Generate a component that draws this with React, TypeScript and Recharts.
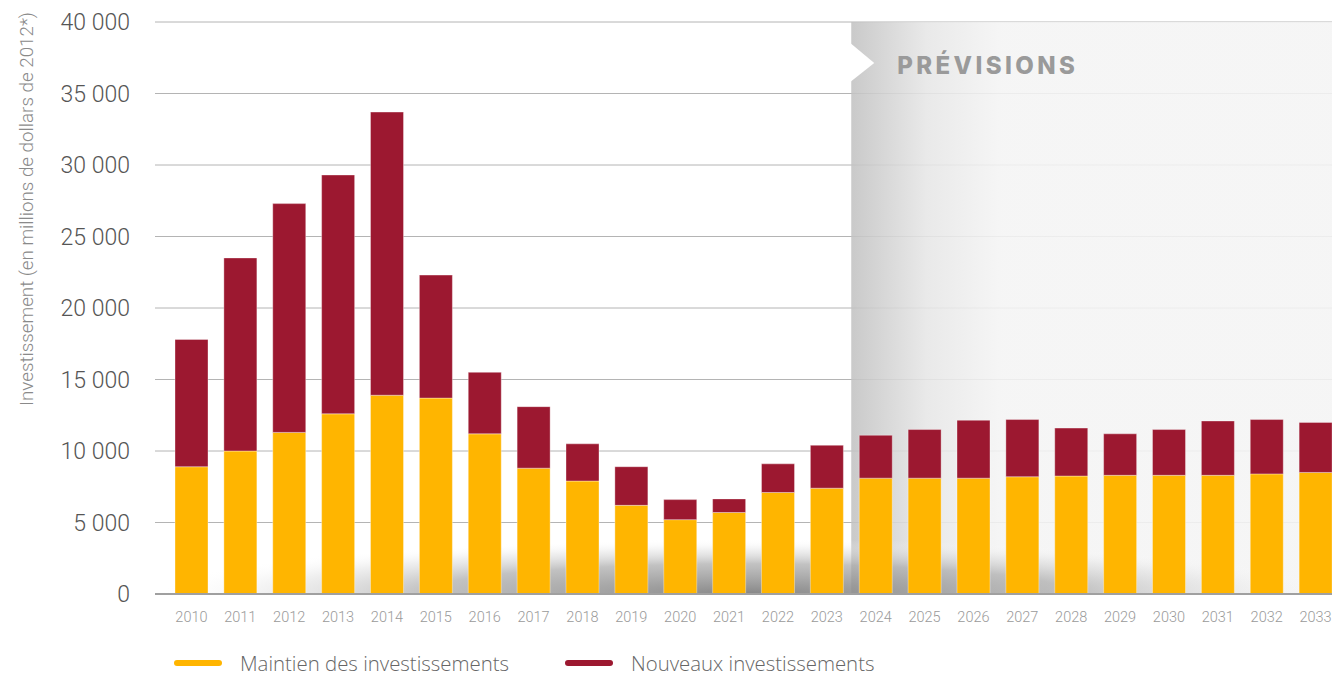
import React from 'react';
import { BarChart, Bar, XAxis, YAxis, CartesianGrid, Legend, ReferenceArea } from 'recharts';

const years = [
  '2010', '2011', '2012', '2013', '2014', '2015', '2016', '2017', '2018', '2019', '2020', '2021',
  '2022', '2023', '2024', '2025', '2026', '2027', '2028', '2029', '2030', '2031', '2032', '2033',
];
// Maintien des investissements
const maintien = [
  8900, 10000, 11300, 12600, 13900, 13700, 11200, 8800, 7900, 6200, 5200, 5700,
  7100, 7400, 8100, 8100, 8100, 8200, 8250, 8300, 8300, 8300, 8400, 8500,
];
// Nouveaux investissements
const nouveaux = [
  8900, 13500, 16000, 16700, 19800, 8600, 4300, 4300, 2600, 2700, 1400, 950,
  2000, 3000, 3000, 3400, 4050, 4000, 3350, 2900, 3200, 3800, 3800, 3500,
];
const yTicks = [0, 5000, 10000, 15000, 20000, 25000, 30000, 35000, 40000];
const forecastStart = '2024';

const YELLOW = '#FFB500';
const RED = '#9C1830';

const data = years.map((year, i) => ({ year, maintien: maintien[i], nouveaux: nouveaux[i] }));

const fmt = (v: number) => String(v).replace(/\B(?=(\d{3})+(?!\d))/g, ' ');

const ForecastShape = (props: any) => {
  const { x, y, width, height } = props;
  return (
    <g>
      <defs>
        <linearGradient id="fcLeft" gradientUnits="userSpaceOnUse" x1={x} y1={0} x2={x + 150} y2={0}>
          <stop offset="0" stopColor="#c2c2c2" />
          <stop offset="0.5" stopColor="#e6e6e6" />
          <stop offset="1" stopColor="#f4f4f4" />
        </linearGradient>
      </defs>
      <rect x={x} y={y} width={width} height={height} fill="url(#fcLeft)" fillOpacity={0.88} />
      <polygon points={`${x - 1},${y + 21} ${x + 23},${y + 41} ${x - 1},${y + 60}`} fill="#ffffff" />
      <text
        x={x + 46}
        y={y + 45}
        textAnchor="start"
        dominantBaseline="middle"
        fill="#9a9a9a"
        fontFamily="Inter, 'Open Sans', sans-serif"
        fontWeight={800}
        fontSize={24}
        letterSpacing={3.4}
      >
        PRÉVISIONS
      </text>
    </g>
  );
};

const ShadowShape = (props: any) => {
  const { x, y, width, height } = props;
  const h = 110;
  return (
    <g>
      <defs>
        <radialGradient id="bottomShadow" cx="0.5" cy="1" r="0.5">
          <stop offset="0" stopColor="#808080" stopOpacity={0.95} />
          <stop offset="0.55" stopColor="#a8a8a8" stopOpacity={0.7} />
          <stop offset="0.8" stopColor="#d8d8d8" stopOpacity={0.4} />
          <stop offset="1" stopColor="#ffffff" stopOpacity={0} />
        </radialGradient>
      </defs>
      <rect x={x - 12} y={y + height - h} width={width + 12} height={h} fill="url(#bottomShadow)" />
    </g>
  );
};

const YLabel = () => (
  <text
    transform="translate(20, 201) rotate(-90)"
    textAnchor="middle"
    dominantBaseline="middle"
    fill="#8a8a8a"
    fontFamily="Roboto, sans-serif"
    fontWeight={300}
    fontSize={18.8}
  >
    Investissement (en millions de dollars de 2012*)
  </text>
);

const LegendContent = () => {
  const items = [
    { label: 'Maintien des investissements', color: YELLOW, width: 391 },
    { label: 'Nouveaux investissements', color: RED, width: 360 },
  ];
  return (
    <div style={{ display: 'flex', alignItems: 'center', height: 40, paddingTop: 14, boxSizing: 'border-box' }}>
      {items.map((it) => (
        <div key={it.label} style={{ display: 'flex', alignItems: 'center', width: it.width, height: 26 }}>
          <span style={{ display: 'inline-block', width: 48, height: 6, borderRadius: 3, background: it.color }} />
          <span
            style={{
              marginLeft: 18,
              fontFamily: "'Open Sans', sans-serif",
              fontWeight: 300,
              fontSize: 20.4,
              lineHeight: '26px',
              whiteSpace: 'nowrap',
              color: '#666',
            }}
          >
            {it.label}
          </span>
        </div>
      ))}
    </div>
  );
};

export default function App() {
  return (
    <BarChart
      width={1332}
      height={668}
      data={data}
      margin={{ top: 14, right: 0, bottom: 0, left: 0 }}
      barSize={33}
    >
      <CartesianGrid vertical={false} stroke="#b4b4b4" strokeWidth={1} />
      <ReferenceArea x1={forecastStart} ifOverflow="visible" shape={<ForecastShape />} />
      <ReferenceArea x1={years[0]} x2={years[years.length - 1]} ifOverflow="visible" shape={<ShadowShape />} />
      <XAxis
        dataKey="year"
        height={42}
        padding={{ left: 12, right: 0 }}
        tickLine={false}
        tickSize={0}
        tickMargin={18}
        axisLine={{ stroke: '#a0a0a0', strokeWidth: 2 }}
        interval={0}
        tick={{ fill: '#9a9a9a', fontSize: 14.5, fontFamily: 'Roboto, sans-serif', fontWeight: 300 }}
      />
      <YAxis
        width={147}
        domain={[0, 40000]}
        ticks={yTicks}
        tickFormatter={fmt}
        axisLine={false}
        tickLine={false}
        tickSize={0}
        tickMargin={25}
        tick={{ fill: '#555', fontSize: 23, fontFamily: 'Roboto, sans-serif', fontWeight: 300 }}
        label={<YLabel />}
      />
      <Legend
        verticalAlign="bottom"
        height={40}
        content={<LegendContent />}
        wrapperStyle={{ left: 166, width: 800 }}
      />
      <Bar dataKey="maintien" stackId="a" fill={YELLOW} stroke="rgba(255,255,255,0.35)" strokeWidth={1} isAnimationActive={false} />
      <Bar dataKey="nouveaux" stackId="a" fill={RED} stroke="rgba(255,255,255,0.35)" strokeWidth={1} isAnimationActive={false} />
    </BarChart>
  );
}
